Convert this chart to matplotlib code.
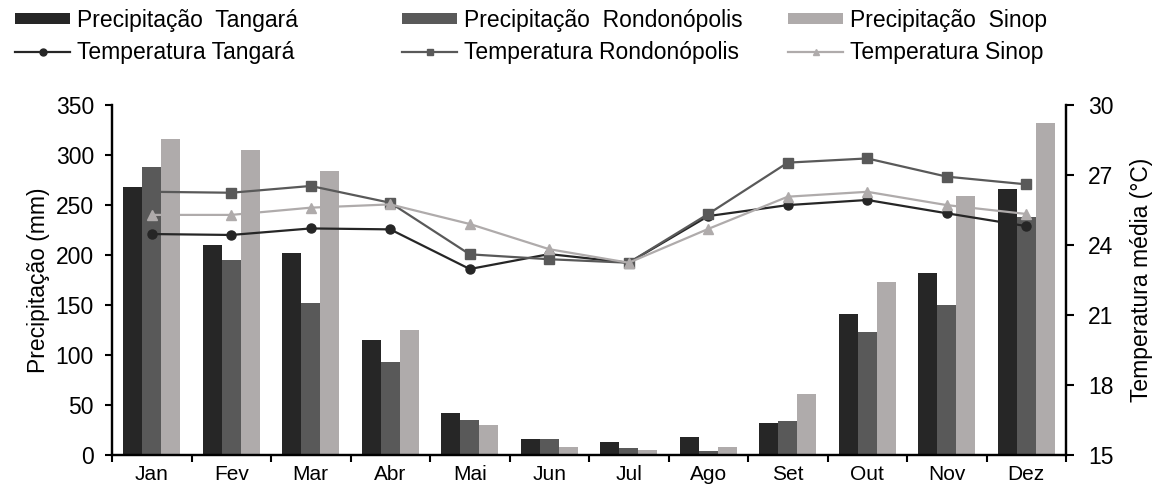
import numpy as np
import matplotlib
matplotlib.use("Agg")
import matplotlib.pyplot as plt
from matplotlib.lines import Line2D
from matplotlib.patches import Patch

plt.rcParams['font.family'] = ['Liberation Sans', 'DejaVu Sans']

months = ["Jan", "Fev", "Mar", "Abr", "Mai", "Jun", "Jul", "Ago", "Set", "Out", "Nov", "Dez"]

prec_tangara = [268, 210, 202, 115, 42, 16.5, 13, 18, 32, 141, 182, 266]
prec_rondonopolis = [288, 195, 152, 93, 35, 16.5, 7, 4, 34, 123, 150, 238]
prec_sinop = [316, 305, 284, 125, 30, 8.5, 5, 8.5, 61, 173, 259, 332]

temp_tangara = [24.47, 24.43, 24.71, 24.67, 22.97, 23.61, 23.24, 25.24, 25.71, 25.93, 25.36, 24.81]
temp_rondonopolis = [26.28, 26.24, 26.53, 25.81, 23.60, 23.39, 23.24, 25.33, 27.53, 27.71, 26.93, 26.60]
temp_sinop = [25.29, 25.29, 25.60, 25.74, 24.90, 23.82, 23.24, 24.69, 26.07, 26.28, 25.71, 25.33]

c_t, c_r, c_s = "#262626", "#595959", "#afabab"

W, H = 1168, 490
fig = plt.figure(figsize=(W / 100, H / 100), dpi=100)
ax = fig.add_axes([112 / W, 1 - 455 / H, (1066 - 112) / W, (455 - 105) / H])
ax2 = ax.twinx()

x = np.arange(len(months))
bw = 0.24
ax.bar(x - bw, prec_tangara, bw, color=c_t, linewidth=0)
ax.bar(x, prec_rondonopolis, bw, color=c_r, linewidth=0)
ax.bar(x + bw, prec_sinop, bw, color=c_s, linewidth=0)

ax2.plot(x, temp_tangara, color=c_t, lw=1.6, marker="o", ms=6.5)
ax2.plot(x, temp_rondonopolis, color=c_r, lw=1.6, marker="s", ms=6.5)
ax2.plot(x, temp_sinop, color=c_s, lw=1.6, marker="^", ms=6.5)

ax.set_xlim(-0.5, 11.5)
ax.set_ylim(0, 350)
ax.set_yticks(np.arange(0, 351, 50))
ax2.set_ylim(15, 30)
ax2.set_yticks(np.arange(15, 31, 3))

fs = 16.5
ax.set_xticks(np.arange(-0.5, 12, 1))
ax.set_xticklabels([])
ax.set_xticks(x, minor=True)
ax.set_xticklabels(months, minor=True)
ax.tick_params(axis="x", which="minor", length=0, pad=7, labelsize=15)
ax.tick_params(axis="x", which="major", length=5, width=1.5, direction="out")
ax.tick_params(axis="y", length=5, width=1.5, direction="out", pad=8, labelsize=fs)
ax2.tick_params(axis="y", length=6, width=1.5, direction="out", pad=10, labelsize=fs)

for a in (ax, ax2):
    a.spines["top"].set_visible(False)
    for s in ("left", "right", "bottom"):
        a.spines[s].set_linewidth(1.6)

ax.set_ylabel("Precipitação (mm)", fontsize=fs, labelpad=4)
ax2.set_ylabel("Temperatura média (°C)", fontsize=fs, labelpad=12)

cols = [
    (15, "Precipitação  Tangará", "Temperatura Tangará", c_t, "o"),
    (402, "Precipitação  Rondonópolis", "Temperatura Rondonópolis", c_r, "s"),
    (788, "Precipitação  Sinop", "Temperatura Sinop", c_s, "^"),
]
for xpos, lp, lt, col, mk in cols:
    handles = [Patch(facecolor=col, edgecolor="none"),
               Line2D([], [], color=col, lw=1.6, marker=mk, ms=5)]
    fig.legend(handles, [lp, lt], loc="upper left",
               bbox_to_anchor=(xpos / W, 1 - 9 / H), frameon=False,
               borderpad=0, borderaxespad=0, handlelength=2.4,
               handleheight=0.35, handletextpad=0.3, labelspacing=0.4,
               fontsize=fs)

fig.savefig("out.png", dpi=100)
